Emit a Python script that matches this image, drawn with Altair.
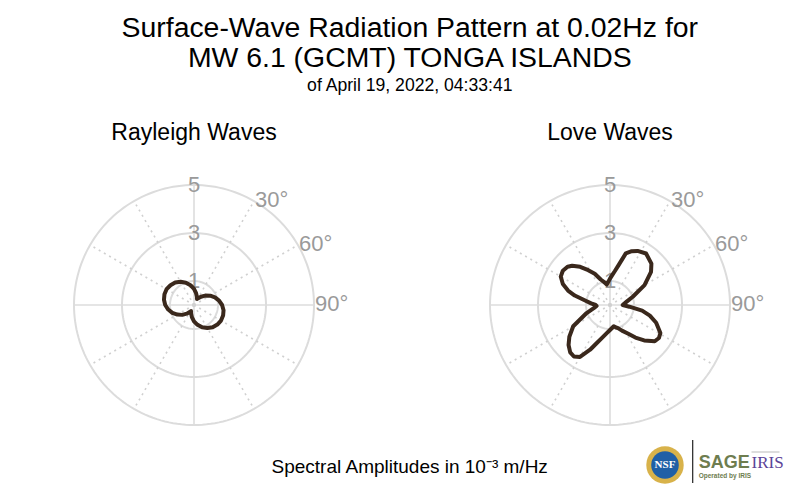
import altair as alt
import pandas as pd

# ---------------- data ----------------
TITLE_LINES = ["Surface-Wave Radiation Pattern at 0.02Hz for", "MW 6.1 (GCMT) TONGA ISLANDS"]
SUBTITLE = "of April 19, 2022, 04:33:41"
PANEL_TITLES = ["Rayleigh Waves", "Love Waves"]
CAPTION = "Spectral Amplitudes in 10\u207b\u00b3 m/Hz"

RAYLEIGH_DEG = [0, 10, 20, 26, 30, 40, 50, 60, 70, 80, 90, 100, 110, 120, 130, 140, 150, 160,
                170, 180, 190, 200, 206, 210, 220, 230, 240, 250, 260, 270, 280, 290, 300, 310,
                320, 330, 340, 350, 360]
RAYLEIGH_AMP = [0.67, 0.50, 0.36, 0.28, 0.31, 0.45, 0.61, 0.78, 0.93, 1.06, 1.17, 1.25, 1.29, 1.30,
                1.27, 1.21, 1.11, 0.99, 0.84, 0.68, 0.51, 0.36, 0.28, 0.33, 0.47, 0.64, 0.80, 0.96,
                1.09, 1.20, 1.27, 1.31, 1.32, 1.28, 1.22, 1.12, 0.99, 0.84, 0.67]

LOVE_DEG = [0, 5, 8, 12, 17, 22, 27, 35, 45, 51, 60, 70, 80, 85, 90, 95, 100, 105, 111, 119,
            124, 129, 136, 142, 148, 155, 161, 165, 170, 180, 187, 194, 200, 204, 210, 215, 220,
            226, 232, 240, 251, 256, 260, 266, 270, 275, 280, 285, 289, 294, 300, 306, 312, 316,
            322, 328, 334, 340, 345, 351, 360]
LOVE_AMP = [1.10, 1.28, 1.42, 1.69, 2.25, 2.42, 2.53, 2.62, 2.44, 2.20, 1.66, 1.01, 0.68, 0.59,
            0.53, 0.81, 1.36, 1.72, 2.06, 2.40, 2.46, 2.40, 2.05, 1.72, 1.40, 1.18, 1.02, 0.97,
            0.90, 1.04, 1.19, 1.42, 1.73, 2.04, 2.50, 2.62, 2.58, 2.40, 2.15, 1.77, 1.03, 0.79,
            0.67, 0.56, 0.60, 0.79, 1.03, 1.52, 1.85, 2.15, 2.37, 2.43, 2.38, 2.27, 2.02, 1.71,
            1.45, 1.13, 1.00, 0.86, 1.10]

RING_VALUES = [1, 3, 5]
RADIUS_LABELS = ["1", "3", "5"]
SOLID_SPOKES = [0, 90, 180, 270]
DOTTED_SPOKES = [30, 60, 120, 150, 210, 240, 300, 330]
ANGLE_LABEL_DEG = [30, 60, 90]
ANGLE_LABELS = ["30\u00b0", "60\u00b0", "90\u00b0"]

# ---------------- styling ----------------
FONT = "Liberation Sans"
D = 6.25
W = 300
XS = alt.Scale(domain=[-D, D], nice=False, zero=False)
YS = alt.Scale(domain=[-D, D], nice=False, zero=False)
CURVE_COLOR = "#3a281c"
GRID = "#dcdcdc"
LABEL_GRAY = "#9a9a9a"

POLAR_X = "datum.r * sin(datum.deg * PI / 180)"
POLAR_Y = "datum.r * cos(datum.deg * PI / 180)"

# ring outlines: each ring value traced around the full circle (grid geometry)
RING_STEP_DEG = list(range(0, 361, 2))
ring_rows = [{"ring": r, "deg": d} for r in RING_VALUES for d in RING_STEP_DEG]


def grid_layers():
    rings = alt.Chart(pd.DataFrame(ring_rows)).transform_calculate(
        r="datum.ring"
    ).transform_calculate(x=POLAR_X, y=POLAR_Y).mark_line(
        color=GRID, strokeWidth=2
    ).encode(
        x=alt.X("x:Q", scale=XS, axis=None),
        y=alt.Y("y:Q", scale=YS, axis=None),
        detail="ring:N",
        order=alt.Order("deg:Q"),
    )

    def spokes(degs, dash):
        c = alt.Chart(pd.DataFrame({"deg": degs})).transform_calculate(
            zero="0", r="5"
        ).transform_calculate(x2=POLAR_X, y2=POLAR_Y)
        kw = dict(color=GRID, strokeWidth=1.6)
        if dash:
            kw["strokeDash"] = [2, 4]
            kw["color"] = "#d0d0d0"
        return c.mark_rule(**kw).encode(
            x=alt.X("zero:Q", scale=XS, axis=None),
            y=alt.Y("zero:Q", scale=YS, axis=None),
            x2="x2:Q",
            y2="y2:Q",
        )

    rlab = alt.Chart(pd.DataFrame({"lab": RADIUS_LABELS, "r": RING_VALUES})).transform_calculate(
        zero="0"
    ).mark_text(font=FONT, fontSize=22, color=LABEL_GRAY, align="center", baseline="middle").encode(
        x=alt.X("zero:Q", scale=XS, axis=None),
        y=alt.Y("r:Q", scale=YS, axis=None),
        text="lab:N",
    )
    alab = alt.Chart(pd.DataFrame({"lab": ANGLE_LABELS, "deg": ANGLE_LABEL_DEG})).transform_calculate(
        r="5"
    ).transform_calculate(x=POLAR_X, y=POLAR_Y).mark_text(
        font=FONT, fontSize=22, color=LABEL_GRAY, align="left", baseline="middle", dx=1, dy=-1.5
    ).encode(
        x=alt.X("x:Q", scale=XS, axis=None),
        y=alt.Y("y:Q", scale=YS, axis=None),
        text="lab:N",
    )
    return [rings, spokes(SOLID_SPOKES, False), spokes(DOTTED_SPOKES, True), rlab, alab]


def curve(degs, amps):
    df = pd.DataFrame({"deg": degs, "r": amps, "i": list(range(len(degs)))})
    return alt.Chart(df).transform_calculate(x=POLAR_X, y=POLAR_Y).mark_line(
        color=CURVE_COLOR, strokeWidth=4, strokeJoin="round", strokeCap="round"
    ).encode(
        x=alt.X("x:Q", scale=XS, axis=None),
        y=alt.Y("y:Q", scale=YS, axis=None),
        order=alt.Order("i:Q"),
    )


def ptitle(text):
    return alt.TitleParams(text, font=FONT, fontSize=23, fontWeight="normal", color="black",
                           anchor="middle", offset=10.5)


one = pd.DataFrame({"k": [0]})

caption = alt.Chart(pd.DataFrame({"t": [CAPTION]})).mark_text(
    font=FONT, fontSize=19, color="black", align="center", baseline="middle"
).encode(x=alt.value(365.7), y=alt.value(312), text="t:N")

# logo (decorative) in right panel coordinates
logo_gold = alt.Chart(one).mark_point(shape="circle", filled=True, color="#d8b24a", opacity=1).encode(
    x=alt.value(205), y=alt.value(310), size=alt.value(1400))
logo_blue = alt.Chart(one).mark_point(shape="circle", filled=True, color="#1f5fa6", opacity=1).encode(
    x=alt.value(205), y=alt.value(310), size=alt.value(760))
logo_nsf = alt.Chart(pd.DataFrame({"t": ["NSF"]})).mark_text(
    font="Liberation Serif", fontSize=11, fontWeight="bold", color="white", align="center", baseline="middle"
).encode(x=alt.value(205), y=alt.value(310), text="t:N")
logo_bar = alt.Chart(one).mark_rule(color="#222222", strokeWidth=1.2).encode(
    x=alt.value(232.7), y=alt.value(285), y2=alt.value(328))
logo_sage = alt.Chart(pd.DataFrame({"t": ["SAGE"]})).mark_text(
    font=FONT, fontSize=18, fontWeight="bold", color="#6e7d4f", align="left", baseline="alphabetic"
).encode(x=alt.value(238.7), y=alt.value(313), text="t:N")
logo_iris = alt.Chart(pd.DataFrame({"t": ["IRIS"]})).mark_text(
    font="Liberation Serif", fontSize=17, color="#5b4398", align="left", baseline="alphabetic"
).encode(x=alt.value(291.5), y=alt.value(313), text="t:N")
logo_op = alt.Chart(pd.DataFrame({"t": ["Operated by IRIS"]})).mark_text(
    font=FONT, fontSize=6.5, fontWeight="bold", color="#6e7d4f", align="left", baseline="alphabetic"
).encode(x=alt.value(238.7), y=alt.value(323), text="t:N")
logo_seis = alt.Chart(one).mark_rule(color="#aaaaaa", strokeWidth=0.8).encode(
    x=alt.value(291.5), x2=alt.value(319.5), y=alt.value(297))

left = alt.layer(*grid_layers(), curve(RAYLEIGH_DEG, RAYLEIGH_AMP), caption).properties(
    width=W, height=W, title=ptitle(PANEL_TITLES[0]))
right = alt.layer(*grid_layers(), curve(LOVE_DEG, LOVE_AMP), logo_gold, logo_blue, logo_nsf,
                  logo_bar, logo_sage, logo_iris, logo_op, logo_seis).properties(
    width=W, height=W, title=ptitle(PANEL_TITLES[1]))

chart = alt.hconcat(left, right, spacing=116, bounds="flush").properties(
    title=alt.TitleParams(
        TITLE_LINES, subtitle=SUBTITLE, font=FONT, fontSize=28.4,
        fontWeight="normal", color="black", lineHeight=30, subtitleFont=FONT, subtitleFontSize=17.6,
        subtitleColor="black", subtitlePadding=4, anchor="middle", offset=26, dx=-4,
    ),
    padding={"left": 36, "top": 5, "right": 0, "bottom": 0},
).configure_view(strokeOpacity=0)

chart.save("out.html", embed_options={"renderer": "svg", "actions": False})
